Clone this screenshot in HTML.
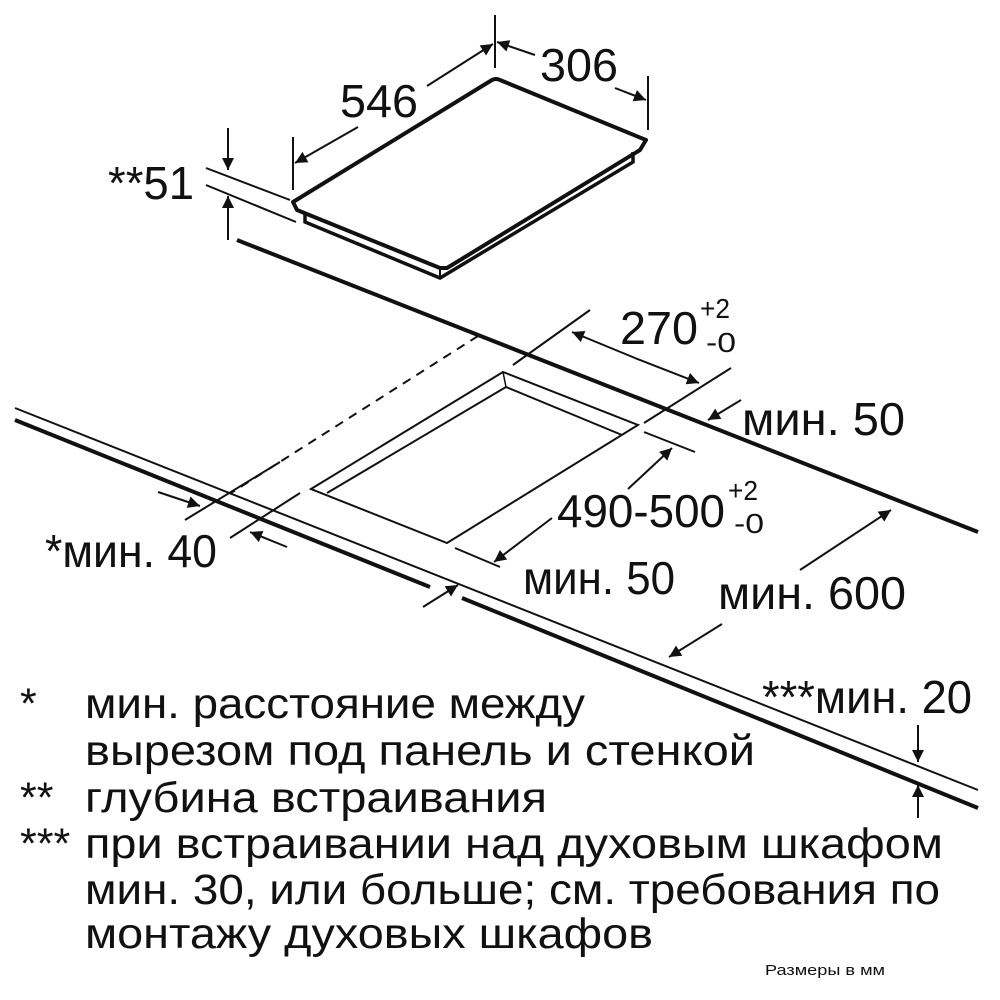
<!DOCTYPE html>
<html><head><meta charset="utf-8"><style>
html,body{margin:0;padding:0;background:#fff;}
svg{display:block}
text{font-family:"Liberation Sans",sans-serif;fill:#111;}
</style></head><body>
<svg width="1000" height="1000" viewBox="0 0 1000 1000" xmlns="http://www.w3.org/2000/svg">
<defs>
<marker id="a" viewBox="0 0 10 10" refX="10" refY="5" markerWidth="16" markerHeight="12" markerUnits="userSpaceOnUse" orient="auto">
<path d="M0,0 L10,5 L0,10 z" fill="#111"/></marker>
</defs>
<g stroke="#111" fill="none" stroke-linecap="butt">
<path d="M293,202 L492,80 Q496,78 500,80 L646,140 L640,150 L447,268 L440,268 L297,210 Z" stroke-width="4" stroke-linejoin="round"/>
<path d="M305,212 L305,222 L440,278 L633,162 L633,152" stroke-width="3.5"/>
<path d="M440,268 L440,278" stroke-width="2"/>
<line x1="206" y1="168" x2="290" y2="200" stroke-width="2"/>
<line x1="206" y1="185" x2="296" y2="222" stroke-width="2"/>
<line x1="228" y1="128" x2="228" y2="170" stroke-width="2" marker-end="url(#a)"/>
<line x1="228" y1="240" x2="228" y2="196" stroke-width="2" marker-end="url(#a)"/>
<line x1="293" y1="137" x2="293" y2="190" stroke-width="2"/>
<line x1="358" y1="127" x2="295" y2="163" stroke-width="2" marker-end="url(#a)"/>
<line x1="427" y1="86" x2="493" y2="44" stroke-width="2" marker-end="url(#a)"/>
<line x1="495" y1="15" x2="495" y2="68" stroke-width="2"/>
<line x1="535" y1="55" x2="497" y2="42" stroke-width="2" marker-end="url(#a)"/>
<line x1="615" y1="88" x2="646" y2="100" stroke-width="2" marker-end="url(#a)"/>
<line x1="648" y1="76" x2="648" y2="130" stroke-width="2"/>
<line x1="237" y1="240" x2="978" y2="532" stroke-width="4"/>
<line x1="15" y1="408" x2="978" y2="790" stroke-width="2"/>
<line x1="15" y1="420" x2="430" y2="587" stroke-width="4"/>
<line x1="462" y1="598" x2="978" y2="808" stroke-width="4"/>
<path d="M311,489 L503,372 L638,425 L447,543 Z" stroke-width="2"/>
<path d="M327,493 L506,387 L622,435" stroke-width="2"/>
<line x1="503" y1="372" x2="506" y2="387" stroke-width="1.5"/>
<line x1="478" y1="336" x2="231" y2="493" stroke-width="2" stroke-dasharray="9,7"/>
<line x1="590" y1="310" x2="513" y2="365" stroke-width="2"/>
<line x1="731" y1="368" x2="644" y2="423" stroke-width="2"/>
<line x1="635" y1="358" x2="572" y2="332" stroke-width="2" marker-end="url(#a)"/>
<line x1="635" y1="358" x2="699" y2="383" stroke-width="2" marker-end="url(#a)"/>
<line x1="741" y1="400" x2="708" y2="420" stroke-width="2" marker-end="url(#a)"/>
<line x1="644" y1="432" x2="695" y2="452" stroke-width="2"/>
<line x1="455" y1="548" x2="500" y2="567" stroke-width="2"/>
<line x1="628" y1="489" x2="672" y2="448" stroke-width="2" marker-end="url(#a)"/>
<line x1="552" y1="518" x2="494" y2="562" stroke-width="2" marker-end="url(#a)"/>
<line x1="185" y1="520" x2="280" y2="462" stroke-width="2"/>
<line x1="230" y1="538" x2="300" y2="493" stroke-width="2"/>
<line x1="158" y1="492" x2="200" y2="506" stroke-width="2" marker-end="url(#a)"/>
<line x1="287" y1="547" x2="250" y2="532" stroke-width="2" marker-end="url(#a)"/>
<line x1="423" y1="607" x2="458" y2="585" stroke-width="2" marker-end="url(#a)"/>
<line x1="800" y1="570" x2="891" y2="510" stroke-width="2" marker-end="url(#a)"/>
<line x1="722" y1="624" x2="669" y2="657" stroke-width="2" marker-end="url(#a)"/>
<line x1="918" y1="725" x2="918" y2="762" stroke-width="2" marker-end="url(#a)"/>
<line x1="918" y1="818" x2="918" y2="785" stroke-width="2" marker-end="url(#a)"/>
</g>
<g font-size="46">
<text x="108" y="199" textLength="86" lengthAdjust="spacingAndGlyphs">**51</text>
<text x="340" y="117" textLength="78" lengthAdjust="spacingAndGlyphs">546</text>
<text x="540" y="81" textLength="78" lengthAdjust="spacingAndGlyphs">306</text>
<text x="620" y="344" textLength="78" lengthAdjust="spacingAndGlyphs">270</text>
<text x="700" y="318" font-size="28" textLength="30" lengthAdjust="spacingAndGlyphs">+2</text>
<text x="706" y="352" font-size="28" textLength="30" lengthAdjust="spacingAndGlyphs">-0</text>
<text x="742" y="435" textLength="163" lengthAdjust="spacingAndGlyphs">мин. 50</text>
<text x="557" y="527" textLength="168" lengthAdjust="spacingAndGlyphs">490-500</text>
<text x="728" y="500" font-size="28" textLength="30" lengthAdjust="spacingAndGlyphs">+2</text>
<text x="734" y="533" font-size="28" textLength="30" lengthAdjust="spacingAndGlyphs">-0</text>
<text x="45" y="567" textLength="172" lengthAdjust="spacingAndGlyphs">*мин. 40</text>
<text x="523" y="594" textLength="152" lengthAdjust="spacingAndGlyphs">мин. 50</text>
<text x="718" y="609" textLength="188" lengthAdjust="spacingAndGlyphs">мин. 600</text>
<text x="762" y="713" textLength="210" lengthAdjust="spacingAndGlyphs">***мин. 20</text>
</g>
<g font-size="43">
<text x="20" y="718">*</text>
<text x="85" y="718" textLength="500" lengthAdjust="spacingAndGlyphs">мин. расстояние между</text>
<text x="85" y="765" textLength="670" lengthAdjust="spacingAndGlyphs">вырезом под панель и стенкой</text>
<text x="20" y="812">**</text>
<text x="85" y="812" textLength="462" lengthAdjust="spacingAndGlyphs">глубина встраивания</text>
<text x="20" y="858">***</text>
<text x="85" y="858" textLength="858" lengthAdjust="spacingAndGlyphs">при встраивании над духовым шкафом</text>
<text x="85" y="904" textLength="855" lengthAdjust="spacingAndGlyphs">мин. 30, или больше; см. требования по</text>
<text x="85" y="948" textLength="568" lengthAdjust="spacingAndGlyphs">монтажу духовых шкафов</text>
</g>
<text x="765" y="975" font-size="15" textLength="120" lengthAdjust="spacingAndGlyphs">Размеры в мм</text>
</svg>
</body></html>
